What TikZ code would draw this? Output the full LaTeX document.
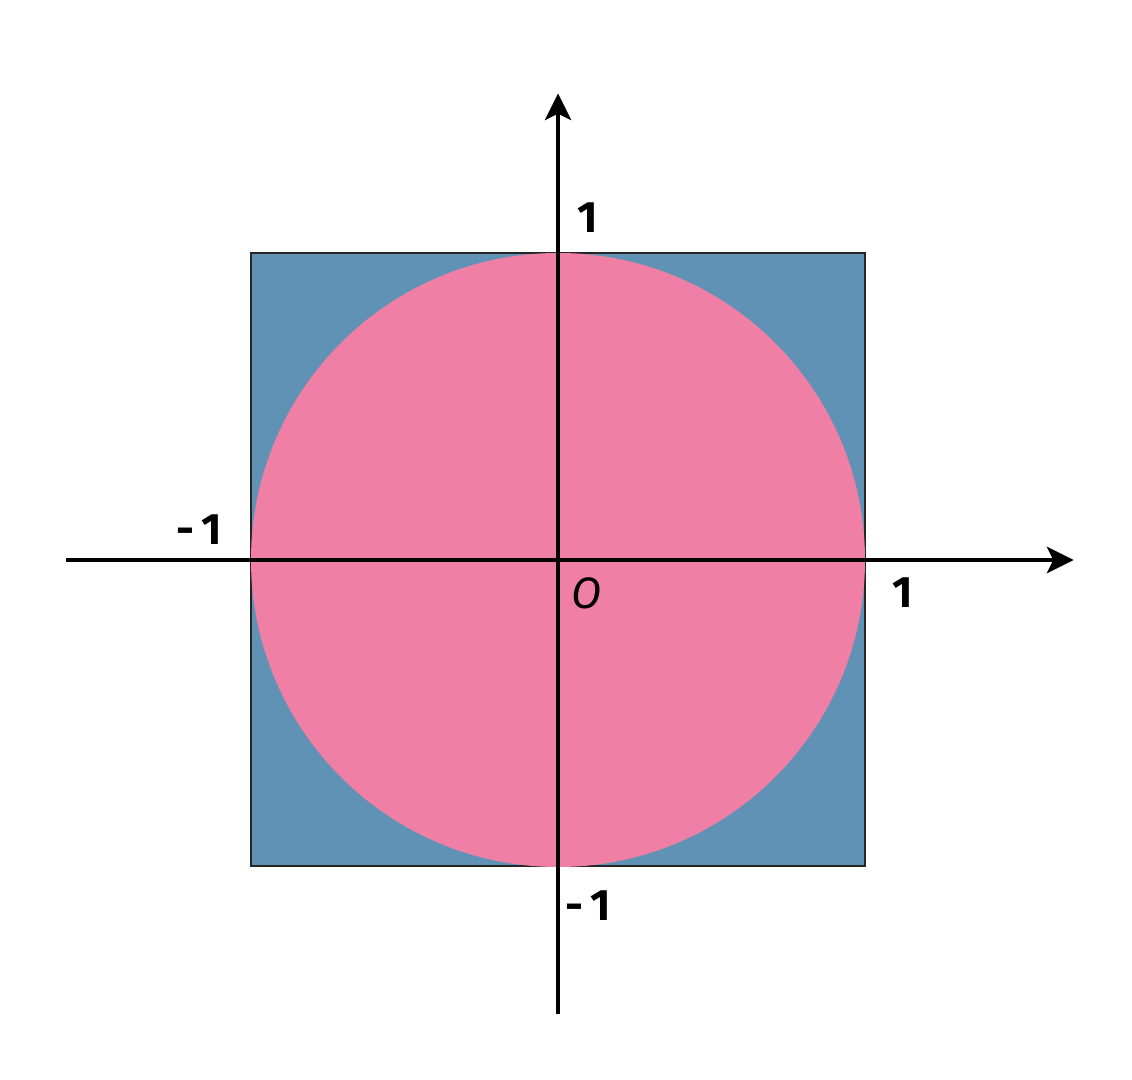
\documentclass[tikz,border=0pt]{standalone}
\usepackage{fontspec}
\setmainfont{Fira Sans}
\definecolor{sqblue}{HTML}{5F92B5}
\definecolor{cpink}{HTML}{F07FA6}
\begin{document}
\begin{tikzpicture}[x=0.75pt,y=-0.75pt,
  axis/.style={line width=2.8pt,black},
  tip/.style={fill=black,draw=black,line width=1pt,line join=miter},
  lbl/.style={font=\fontsize{33}{33}\selectfont\bfseries,inner sep=0pt}]
\useasboundingbox (0,0) rectangle (1132,1080);
\fill[white] (0,0) rectangle (1132,1080);
\draw[fill=sqblue,draw=black!85,line width=1.1pt] (251,253) rectangle (865,866);
\fill[cpink] (558,560) circle[radius=307];
\coordinate (xl) at (66,560);
\coordinate (xr) at (1072,560);
\coordinate (yb) at (558,1014);
\coordinate (yt) at (558,95);
\draw[axis] (xl) -- ([xshift=-8pt]xr);
\draw[axis] (yb) -- ([yshift=-8pt]yt);
\path[tip] (xr) -- ++(-24,-12) -- ++(6,12) -- ++(-6,12) -- cycle;
\path[tip] (yt) -- ++(-12,24) -- ++(12,-6) -- ++(12,6) -- cycle;
\node[lbl] (t1) at (588,218) {1};
\node[lbl] (lm1) at (199,530) {-\,1};
\node[lbl,font=\fontsize{33}{33}\selectfont\itshape] (o) at (587,593) {O};
\node[lbl] (r1) at (903,593) {1};
\node[lbl] (bm1) at (588,906) {-\,1};
\end{tikzpicture}
\end{document}
